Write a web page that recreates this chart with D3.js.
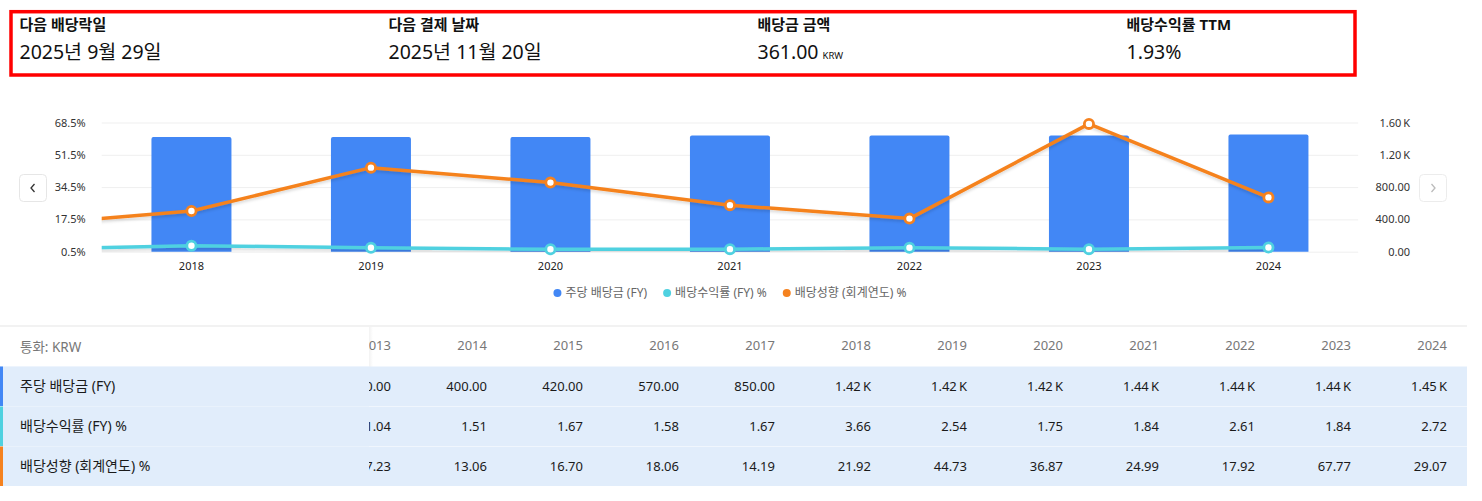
<!DOCTYPE html>
<html>
<head>
<meta charset="utf-8">
<script src="https://cdn.jsdelivr.net/npm/d3@7"></script>
<style>
  body { margin: 0; background: #fff; font-family: "Noto Sans", "Noto Sans CJK KR", sans-serif; }
  svg text { font-family: "Noto Sans", "Noto Sans CJK KR", sans-serif; }
</style>
</head>
<body>
<script>
// ---- data ----
var years = [2013, 2014, 2015, 2016, 2017, 2018, 2019, 2020, 2021, 2022, 2023, 2024];
var dps = [360, 400, 420, 570, 850, 1420, 1420, 1420, 1440, 1440, 1440, 1450];
var yieldFY = [1.04, 1.51, 1.67, 1.58, 1.67, 3.66, 2.54, 1.75, 1.84, 2.61, 1.84, 2.72];
var payout = [17.23, 13.06, 16.70, 18.06, 14.19, 21.92, 44.73, 36.87, 24.99, 17.92, 67.77, 29.07];
var chartYears = [2018, 2019, 2020, 2021, 2022, 2023, 2024];
var leftTicks = [0.5, 17.5, 34.5, 51.5, 68.5];
var rightTicks = [0, 400, 800, 1200, 1600];
var seriesNames = ["주당 배당금 (FY)", "배당수익률 (FY) %", "배당성향 (회계연도) %"];
var seriesColors = ["#4287f5", "#4fd1e0", "#f5821f"];
var headLabels = ["다음 배당락일", "다음 결제 날짜", "배당금 금액", "배당수익률 TTM"];
var headValues = ["2025년 9월 29일", "2025년 11월 20일", "361.00", "1.93%"];

var W = 1482, H = 501;
var svg = d3.select("body").append("svg").attr("width", W).attr("height", H);

function fmtK(v) {
  return v >= 1000 ? (v / 1000).toFixed(2) + "\u202FK" : v.toFixed(2);
}

// ---- header box ----
svg.append("rect")
  .attr("x", 11).attr("y", 11.7).attr("width", 1344).attr("height", 63.3)
  .attr("fill", "none").attr("stroke", "#ff0000").attr("stroke-width", 3.5);

headLabels.forEach(function(lab, i) {
  var x = 19.5 + i * 369;
  svg.append("text").attr("x", x).attr("y", 30)
    .attr("font-size", 15).attr("font-weight", "bold").attr("fill", "#111").text(lab);
  var t = svg.append("text").attr("x", x).attr("y", 59)
    .attr("font-size", 19.5).attr("fill", "#111").text(headValues[i]);
  if (i == 2) {
    t.append("tspan").attr("font-size", 9.5).attr("dx", 4).text("KRW");
  }
});

// ---- chart ----
var pl = 101.7, pr = 1358.2, pt = 122.5, pb = 251.7;

var x = d3.scaleBand().domain(chartYears).range([pl, pr]).paddingInner(0).paddingOuter(0);
var step = x.step();
var xc = d3.scaleLinear()
  .domain([chartYears[0], chartYears[chartYears.length - 1]])
  .range([x(chartYears[0]) + step / 2, x(chartYears[chartYears.length - 1]) + step / 2]);
var yL = d3.scaleLinear().domain([0.5, 68.5]).range([pb, pt]);
var yR = d3.scaleLinear().domain([0, 1600]).range([pb, pt]);

// grid
var grid = svg.append("g").attr("transform", "translate(" + pl + ",0)")
  .call(d3.axisLeft(yL).tickValues(leftTicks).tickSize(-(pr - pl)).tickFormat(""));
grid.select(".domain").remove();
grid.selectAll("line").attr("stroke", "#efefef");

// left axis
var ax = svg.append("g").attr("transform", "translate(" + (pl - 16) + ",0)")
  .call(d3.axisLeft(yL).tickValues(leftTicks).tickSize(0).tickPadding(0).tickFormat(function(d) { return d + "%"; }));
ax.select(".domain").remove();
ax.selectAll("text").attr("font-size", 11).attr("fill", "#333");

// right axis
var axr = svg.append("g").attr("transform", "translate(1410,0)")
  .call(d3.axisRight(yR).tickValues(rightTicks).tickSize(0).tickPadding(0).tickFormat(fmtK));
axr.select(".domain").remove();
axr.selectAll("text").attr("font-size", 11).attr("fill", "#333").attr("text-anchor", "end");

// bottom axis
var axb = svg.append("g").attr("transform", "translate(0," + (pb + 10) + ")")
  .call(d3.axisBottom(x).tickSize(0).tickPadding(0));
axb.select(".domain").remove();
axb.selectAll("text").attr("font-size", 11).attr("fill", "#222");

// bars
var barData = chartYears.map(function(yr) { return { year: yr, v: dps[years.indexOf(yr)] }; });
var bw = 80, rr = 2;
svg.append("g").selectAll("path").data(barData).enter().append("path")
  .attr("fill", seriesColors[0])
  .attr("d", function(d) {
    var x0 = x(d.year) + (step - bw) / 2, y0 = yR(d.v), x1 = x0 + bw;
    return "M" + x0 + "," + pb + "V" + (y0 + rr) + "Q" + x0 + "," + y0 + " " + (x0 + rr) + "," + y0 +
      "H" + (x1 - rr) + "Q" + x1 + "," + y0 + " " + x1 + "," + (y0 + rr) + "V" + pb + "Z";
  });

// lines (clipped to plot area)
var defs = svg.append("defs");
defs.append("clipPath").attr("id", "plotclip").append("rect")
  .attr("x", pl).attr("y", 0).attr("width", pr - pl).attr("height", H);
var sh = defs.append("filter").attr("id", "shadow").attr("x", "-5%").attr("y", "-50%").attr("width", "110%").attr("height", "200%");
sh.append("feDropShadow").attr("dx", 0).attr("dy", 2).attr("stdDeviation", 1.5).attr("flood-color", "#000").attr("flood-opacity", 0.15);

var lineYears = years.filter(function(yr) { return yr >= chartYears[0] - 1; });
function seriesPts(arr) {
  return lineYears.map(function(yr) { return { year: yr, v: arr[years.indexOf(yr)] }; });
}
var line = d3.line().x(function(d) { return xc(d.year); }).y(function(d) { return yL(d.v); });

var lg = svg.append("g").attr("clip-path", "url(#plotclip)");
[[yieldFY, seriesColors[1]], [payout, seriesColors[2]]].forEach(function(s) {
  var pts = seriesPts(s[0]);
  lg.append("path").datum(pts).attr("d", line)
    .attr("fill", "none").attr("stroke", s[1]).attr("stroke-width", 3.5)
    .attr("stroke-linejoin", "round").attr("filter", "url(#shadow)");
});
[[yieldFY, seriesColors[1]], [payout, seriesColors[2]]].forEach(function(s) {
  var pts = seriesPts(s[0]).filter(function(d) { return d.year >= chartYears[0]; });
  lg.append("g").selectAll("circle").data(pts).enter().append("circle")
    .attr("cx", function(d) { return xc(d.year); })
    .attr("cy", function(d) { return yL(d.v); })
    .attr("r", 4.6).attr("fill", "#fff").attr("stroke", s[1]).attr("stroke-width", 2.8);
});

// nav buttons
svg.append("rect").attr("x", 19.5).attr("y", 174.5).attr("width", 27).attr("height", 27).attr("rx", 4)
  .attr("fill", "#fff").attr("stroke", "#e6e6e6");
svg.append("path").attr("d", "M34.5,184 L31,188 L34.5,192").attr("fill", "none").attr("stroke", "#333").attr("stroke-width", 1.3);
svg.append("rect").attr("x", 1419.5).attr("y", 174.5).attr("width", 27).attr("height", 27).attr("rx", 4)
  .attr("fill", "#fff").attr("stroke", "#ececec");
svg.append("path").attr("d", "M1431.5,184 L1435,188 L1431.5,192").attr("fill", "none").attr("stroke", "#bbb").attr("stroke-width", 1.3);

// legend
var leg = svg.append("g");
var lx = 0;
seriesNames.forEach(function(n, i) {
  var g = leg.append("g").attr("transform", "translate(" + lx + ",0)");
  g.append("circle").attr("cx", 4).attr("cy", 0).attr("r", 4).attr("fill", seriesColors[i]);
  var t = g.append("text").attr("x", 12).attr("y", 4).attr("font-size", 12).attr("fill", "#666").text(n);
  lx += 12 + t.node().getComputedTextLength() + 16;
});
var legW = lx - 16;
leg.attr("transform", "translate(" + ((pl + pr) / 2 - legW / 2) + ",293)");

// ---- table ----
var tTop = 326, colR0 = 391, colStep = 96, stickyW = 369, tRight = 1467;
var rowTops = [366.5, 406.5, 446.5], rowH = 39.5;
var rowData = [dps.map(fmtK), yieldFY.map(function(v) { return v.toFixed(2); }), payout.map(function(v) { return v.toFixed(2); })];

svg.append("line").attr("x1", 0).attr("x2", tRight).attr("y1", tTop).attr("y2", tTop)
  .attr("stroke", "#eeeeee").attr("stroke-width", 1.5);

svg.append("g").selectAll("rect").data(rowTops).enter().append("rect")
  .attr("x", 0).attr("y", function(d) { return d; }).attr("width", tRight).attr("height", rowH)
  .attr("fill", "#e1edfb");

var cols = svg.append("g").attr("font-size", 13).attr("text-anchor", "end");
years.forEach(function(yr, j) {
  var cx = colR0 + j * colStep;
  cols.append("text").attr("x", cx).attr("y", 350).attr("fill", "#777").text(yr);
  rowData.forEach(function(r, k) {
    cols.append("text").attr("x", cx).attr("y", rowTops[k] + 24.5).attr("fill", "#1a1a1a").text(r[j]);
  });
});

// sticky first column
var shg = defs.append("linearGradient").attr("id", "stickyShadow");
shg.append("stop").attr("offset", "0%").attr("stop-color", "#000").attr("stop-opacity", 0.05);
shg.append("stop").attr("offset", "100%").attr("stop-color", "#000").attr("stop-opacity", 0);
svg.append("rect").attr("x", 0).attr("y", tTop + 1).attr("width", stickyW).attr("height", rowTops[0] - tTop - 1).attr("fill", "#fff");
svg.append("rect").attr("x", stickyW).attr("y", tTop + 1).attr("width", 4).attr("height", rowTops[0] - tTop - 1).attr("fill", "url(#stickyShadow)");
svg.append("text").attr("x", 20).attr("y", 352).attr("font-size", 13.5).attr("fill", "#777").text("통화: KRW");
rowTops.forEach(function(t, k) {
  svg.append("rect").attr("x", 0).attr("y", t).attr("width", stickyW).attr("height", rowH).attr("fill", "#e1edfb");
  svg.append("rect").attr("x", 0).attr("y", t).attr("width", 3).attr("height", rowH).attr("fill", seriesColors[k]);
  svg.append("text").attr("x", 20).attr("y", t + 24.5).attr("font-size", 14).attr("fill", "#1a1a1a").text(seriesNames[k]);
});
</script>
</body>
</html>
